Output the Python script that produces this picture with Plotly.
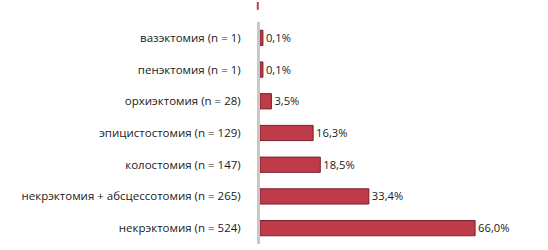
import plotly.graph_objects as go

categories = [
    "некрэктомия (n = 524)",
    "некрэктомия + абсцессотомия (n = 265)",
    "колостомия (n = 147)",
    "эпицистостомия (n = 129)",
    "орхиэктомия (n = 28)",
    "пенэктомия (n = 1)",
    "вазэктомия (n = 1)",
]
values = [66.0, 33.4, 18.5, 16.3, 3.5, 0.1, 0.1]
labels = ["66,0%", "33,4%", "18,5%", "16,3%", "3,5%", "0,1%", "0,1%"]

# tiny visible stub for near-zero bars (as in the 3D original)
display_vals = [max(v, 0.9) for v in values]

fig = go.Figure()
fig.add_trace(go.Bar(
    x=display_vals, y=categories, orientation="h",
    marker=dict(color="#BE3B4A", line=dict(color="#7A1E2A", width=1)),
    width=0.48,
    text=labels, textposition="outside", cliponaxis=False,
    textfont=dict(family="Open Sans", size=12.5, color="#1a1a1a"),
))

fig.update_layout(
    width=548, height=250,
    margin=dict(l=260, r=10, t=22, b=6),
    paper_bgcolor="white", plot_bgcolor="white",
    showlegend=False,
    xaxis=dict(range=[0, 85.3], visible=False, fixedrange=True),
    yaxis=dict(
        categoryorder="array", categoryarray=categories,
        showline=True, linecolor="#C8C8C8", linewidth=3,
        ticks="", ticklabelstandoff=14,
        tickfont=dict(family="Open Sans", size=11.5, color="#1a1a1a"),
        showgrid=False,
    ),
    shapes=[dict(type="line", xref="paper", yref="paper",
                 x0=-0.008, x1=-0.008, y0=1.055, y1=1.09,
                 line=dict(color="#BE3B4A", width=2))],
)

fig.write_html("out.html")
